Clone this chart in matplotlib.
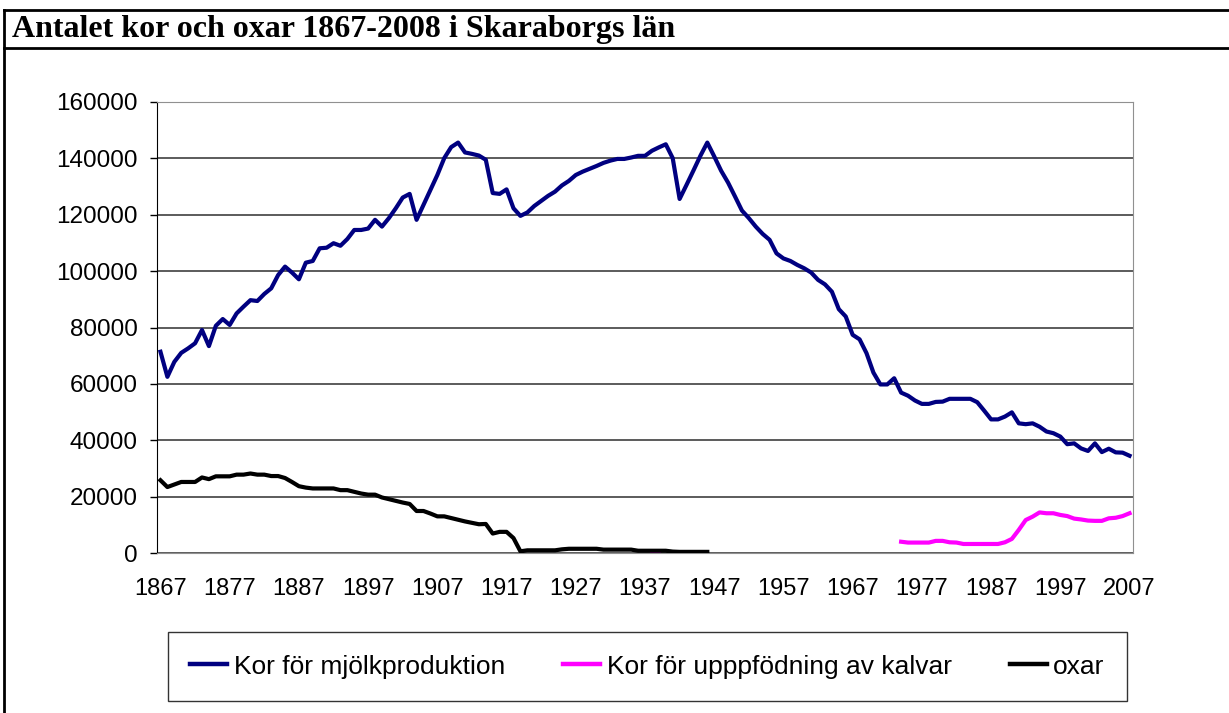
import numpy as np
import matplotlib.pyplot as plt
from matplotlib.lines import Line2D

# data (1867-2007, one value per year)
years = list(range(1867, 2008))

mjolk = [
    71400, 62500, 67800, 71000, 72600, 74400, 79100, 73400, 80600, 83000,
    80900, 85000, 87400, 89700, 89400, 91900, 93900, 98600, 101600, 99500,
    97100, 103000, 103600, 108100, 108300, 109900, 109000, 111400, 114600, 114600,
    115100, 118200, 115800, 118800, 122300, 126100, 127400, 118200, 123500, 128800,
    134100, 140100, 144000, 145600, 142100, 141600, 141000, 139500, 127700, 127400,
    129000, 122300, 119600, 120800, 123100, 124900, 126700, 128200, 130400, 132000,
    134100, 135300, 136300, 137300, 138400, 139200, 139800, 139800, 140300, 140900,
    140900, 142700, 143900, 145000, 140100, 125600, 130600, 135700, 140900, 145600,
    140700, 135600, 131400, 126500, 121500, 118800, 115800, 113200, 111100, 106300,
    104500, 103600, 102200, 101000, 99500, 96900, 95300, 92700, 86500, 83900,
    77400, 75800, 70900, 64000, 59800, 59800, 62000, 56900, 55800, 54100,
    52900, 52900, 53600, 53700, 54700, 54700, 54700, 54700, 53500, 50500,
    47400, 47400, 48400, 49900, 46000, 45700, 46000, 44800, 43100, 42500,
    41300, 38600, 38900, 37100, 36200, 38900, 35800, 37000, 35700, 35600,
    34500,
]

# kor för uppfödning av kalvar: a short bit in 1938-39 and then from 1974
kalvar_early = {1938: 0, 1939: 0}
kalvar_late = [
    4000, 3700, 3700, 3700, 3700, 4300, 4300, 3800, 3700, 3200,
    3200, 3200, 3200, 3200, 3200, 3800, 5000, 8200, 11700, 12900,
    14400, 14100, 14100, 13500, 13100, 12200, 11900, 11500, 11400, 11400,
    12300, 12500, 13100, 14100,
]

oxar = [
    25800, 23400, 24300, 25200, 25200, 25200, 26800, 26200, 27200, 27200,
    27200, 27800, 27800, 28200, 27800, 27800, 27300, 27300, 26600, 25200,
    23700, 23200, 22900, 22900, 22900, 22900, 22300, 22300, 21700, 21100,
    20700, 20700, 19700, 19100, 18500, 17900, 17400, 14900, 14900, 14000,
    13000, 13000, 12400, 11800, 11200, 10700, 10200, 10300, 6900, 7500,
    7500, 5300, 600, 950, 950, 950, 950, 950, 1300, 1500,
    1500, 1500, 1500, 1500, 1200, 1200, 1200, 1200, 1200, 800,
    800, 800, 800, 800, 500, 400, 400, 400, 400, 400,
]

labels = ["Kor för mjölkproduktion", "Kor för upppfödning av kalvar", "oxar"]
colors = ["#000080", "#FF00FF", "#000000"]

n = len(years)
x = np.arange(n)

kalvar = np.full(n, np.nan)
for yr, v in kalvar_early.items():
    kalvar[years.index(yr)] = v
start = years.index(1974)
kalvar[start:start + len(kalvar_late)] = kalvar_late

oxar_full = np.full(n, np.nan)
oxar_full[:len(oxar)] = oxar

W, H = 1229, 713
fig = plt.figure(figsize=(W / 100, H / 100), dpi=100)
plt.rcParams['font.family'] = ['Liberation Sans', 'DejaVu Sans']

# frame lines of the title box
fig.add_artist(Line2D([4 / W, 1], [1 - 10 / H, 1 - 10 / H], color='black', lw=2))
fig.add_artist(Line2D([4 / W, 1], [1 - 48 / H, 1 - 48 / H], color='black', lw=2))
fig.add_artist(Line2D([4 / W, 4 / W], [0, 1 - 10 / H], color='black', lw=2))
fig.text(12 / W, 1 - 30 / H, "Antalet kor och oxar 1867-2008 i Skaraborgs län",
         family='Liberation Serif', weight='bold', fontsize=23, va='center', ha='left')

ax = fig.add_axes([157 / W, 1 - 553 / H, (1133 - 157) / W, (553 - 102) / H])
ax.plot(x, mjolk, color=colors[0], lw=3.0, solid_joinstyle='round', zorder=3)
ax.plot(x, kalvar, color=colors[1], lw=3.0, solid_joinstyle='round', zorder=3)
ax.plot(x, oxar_full, color=colors[2], lw=3.0, solid_joinstyle='round', zorder=4)

ax.set_xlim(-0.5, n - 0.5)
ax.set_ylim(0, 160000)
ax.set_yticks(range(0, 160001, 20000))
ax.set_yticklabels([str(v) for v in range(0, 160001, 20000)], fontsize=17.5)
ax.set_xticks(x[::10])
ax.set_xticklabels([str(years[i]) for i in x[::10]], fontsize=17)
ax.tick_params(axis='x', length=0, pad=18)
ax.tick_params(axis='y', length=5, width=1, direction='out', pad=9)
ax.yaxis.grid(True, color='#404040', lw=1.2)
ax.set_axisbelow(True)
for side in ['top', 'right', 'bottom']:
    ax.spines[side].set_color('#909090')
ax.spines['left'].set_color('black')

handles = [Line2D([], [], color=c, lw=3.2) for c in colors]
leg = fig.legend(handles, labels, loc='lower left', ncol=3, mode='expand',
                 bbox_to_anchor=(168 / W, 1 - 701 / H, (1127 - 168) / W, (701 - 622) / H),
                 fontsize=19, frameon=True, fancybox=False, borderaxespad=0,
                 handlelength=1.4, handletextpad=0.25, borderpad=0.85)
leg.get_frame().set_edgecolor('black')
leg.get_frame().set_linewidth(1)

fig.savefig("out.png", dpi=100)
